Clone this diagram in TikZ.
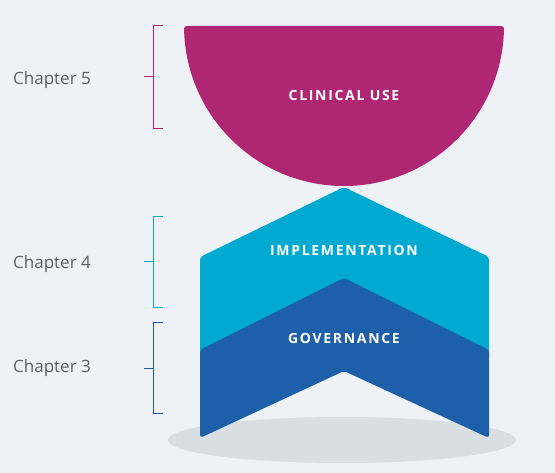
\documentclass[tikz,border=0pt]{standalone}
\usepackage{fontspec}
\setmainfont{Open Sans}
\definecolor{bgc}{HTML}{EEF2F6}
\definecolor{clin}{HTML}{AF2773}
\definecolor{impl}{HTML}{00A9D0}
\definecolor{gov}{HTML}{1E5FAA}
\definecolor{shad}{HTML}{D8DEE2}
\definecolor{chap}{HTML}{5A6068}

\begin{document}
\begin{tikzpicture}[x=1pt,y=-1pt,
	chaplabel/.style={anchor=base west,text=chap,inner sep=0pt,font=\fontsize{17}{20}\selectfont},
	blocklabel/.style={anchor=base,text=white,inner sep=0pt,font=\fontsize{14}{16}\selectfont\bfseries\addfontfeatures{LetterSpace=12}},
	bracket/.style={line width=1pt}]
			\fill[bgc] (0,0) rectangle (555,473);
			\useasboundingbox (0,0) rectangle (555,473);
			% shadow
			\fill[shad] (342,440) ellipse (174 and 23);
			% clinical use
			\fill[clin] (190,26) -- (498,26) .. controls (504,26) .. (503.9,32) arc[start angle=2.15, end angle=177.85, radius=160] .. controls (184,26) .. (190,26) -- cycle;
			% implementation
			\fill[impl,rounded corners=3pt] (200,257) -- (344,187) -- (489,257) -- (489,360) -- (200,360) -- cycle;
			% governance
			\fill[gov,rounded corners=3pt] (200,350) -- (344,278) -- (489,350) -- (489,438) -- (344,371) -- (200,438) -- cycle;
			\node[blocklabel] (clinical) at (344,101) {CLINICAL USE};
			\node[blocklabel] (implementation) at (344,255.5) {IMPLEMENTATION};
			\node[blocklabel] (governance) at (344,344) {GOVERNANCE};
			% brackets
			\coordinate (b5t) at (163,26);
			\coordinate (b5b) at (163,129);
			\coordinate (b5m) at (144,77);
			\coordinate (b4t) at (163,217);
			\coordinate (b4b) at (163,308);
			\coordinate (b4m) at (144,262);
			\coordinate (b3t) at (163,323);
			\coordinate (b3b) at (163,414);
			\coordinate (b3m) at (144,369);
			\draw[bracket,clin] (b5t) -- ++(-10,0) |- (b5b);
			\draw[bracket,clin] (b5m) -- ++(9,0);
			\draw[bracket,impl] (b4t) -- ++(-10,0) |- (b4b);
			\draw[bracket,impl] (b4m) -- ++(9,0);
			\draw[bracket,gov] (b3t) -- ++(-10,0) |- (b3b);
			\draw[bracket,gov] (b3m) -- ++(9,0);
			\node[chaplabel] (ch5) at (13,85) {Chapter 5};
			\node[chaplabel] (ch4) at (13,269) {Chapter 4};
			\node[chaplabel] (ch3) at (13,373) {Chapter 3};
\end{tikzpicture}
\end{document}
